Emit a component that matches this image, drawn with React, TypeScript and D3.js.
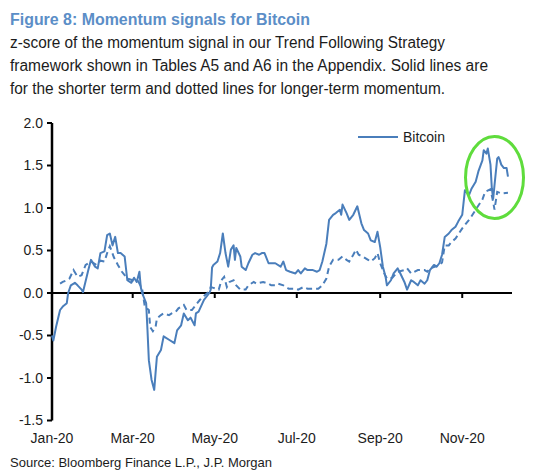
import React from "react";
import * as d3 from "d3";

const title = "Figure 8: Momentum signals for Bitcoin";
const subtitleLines = [
  "z-score of the momentum signal in our Trend Following Strategy",
  "framework shown in Tables A5 and A6 in the Appendix. Solid lines are",
  "for the shorter term and dotted lines for longer-term momentum.",
];
const sourceText = "Source: Bloomberg Finance L.P., J.P. Morgan";
const seriesName = "Bitcoin";

const yTicks = [-1.5, -1.0, -0.5, 0.0, 0.5, 1.0, 1.5, 2.0];
const xTickDates = ["2020-01-01", "2020-03-01", "2020-05-01", "2020-07-01", "2020-09-01", "2020-11-01"];
const xTickLabels = ["Jan-20", "Mar-20", "May-20", "Jul-20", "Sep-20", "Nov-20"];

// Shorter-term momentum (solid)
const shortDates = [
  "01-01","01-02","01-04","01-07","01-09","01-12","01-13","01-15","01-18","01-20","01-23","01-24","01-28","01-30",
  "02-02","02-04","02-06","02-09","02-11","02-13","02-15","02-17","02-19","02-21","02-24","02-26","02-29",
  "03-02","03-04","03-06","03-07","03-08","03-11","03-12","03-13","03-15","03-17","03-18","03-19","03-22","03-24","03-28",
  "04-01","04-03","04-06","04-08","04-11","04-13","04-16","04-17","04-19","04-23","04-27","04-28","04-29","04-30",
  "05-03","05-05","05-07","05-09","05-10","05-11","05-13","05-15","05-16","05-17","05-20","05-21","05-24","05-26","05-29","05-31",
  "06-03","06-05","06-07","06-10","06-12","06-15","06-19","06-21","06-23","06-26","06-30",
  "07-02","07-04","07-07","07-09","07-13","07-16","07-18","07-20","07-23","07-25","07-28","07-30",
  "08-02","08-03","08-04","08-07","08-09","08-12","08-15","08-18","08-20","08-23","08-25","08-28","08-30",
  "09-01","09-03","09-05","09-06","09-09","09-11","09-14","09-16","09-19","09-21","09-24","09-26","09-29",
  "10-01","10-04","10-06","10-08","10-11","10-13","10-15","10-17","10-19","10-22","10-24","10-27","10-29",
  "11-01","11-03","11-06","11-08","11-11","11-13","11-16","11-17","11-19","11-20","11-22","11-23","11-24","11-25","11-27","11-28","11-29","11-30",
  "12-02","12-04","12-05",
];
const shortValues = [
  -0.50,-0.56,-0.40,-0.20,-0.16,-0.12,0.00,0.09,0.12,0.09,0.04,0.01,0.27,0.39,
  0.31,0.29,0.47,0.49,0.68,0.70,0.56,0.66,0.47,0.47,0.43,0.15,0.12,
  0.18,0.13,0.25,0.07,0.00,-0.12,-0.44,-0.79,-1.02,-1.14,-0.94,-0.75,-0.67,-0.51,-0.55,
  -0.59,-0.44,-0.38,-0.24,-0.32,-0.29,-0.38,-0.24,-0.22,-0.08,0.00,0.04,0.30,0.33,
  0.37,0.47,0.70,0.47,0.39,0.31,0.51,0.56,0.39,0.53,0.43,0.31,0.27,0.35,0.45,0.47,
  0.45,0.47,0.47,0.35,0.35,0.35,0.31,0.37,0.27,0.25,0.23,
  0.27,0.23,0.29,0.27,0.27,0.25,0.27,0.37,0.58,0.86,0.92,0.94,
  0.98,0.92,1.04,0.94,0.86,0.92,1.02,0.82,0.74,0.70,0.62,0.60,0.72,
  0.54,0.31,0.19,0.09,0.15,0.23,0.29,0.23,0.13,0.04,0.15,0.13,0.09,
  0.15,0.11,0.15,0.27,0.33,0.31,0.35,0.45,0.66,0.70,0.74,0.78,0.84,
  0.92,1.21,1.15,1.23,1.31,1.43,1.56,1.68,1.64,1.70,1.51,1.23,1.11,1.27,1.58,1.60,1.56,1.51,
  1.47,1.47,1.37,
];

// Longer-term momentum (dotted)
const longDates = [
  "01-07","01-09","01-12","01-14","01-17","01-20","01-23","01-26","01-30",
  "02-03","02-06","02-09","02-11","02-13","02-16","02-19","02-22","02-26",
  "03-01","03-05","03-08","03-10","03-13","03-14","03-16","03-18","03-19","03-22","03-24","03-28","03-30",
  "04-02","04-04","04-08","04-10","04-14","04-17","04-20","04-24","04-27","04-28","04-30",
  "05-04","05-06","05-08","05-10","05-12","05-15","05-17","05-20","05-24","05-26","05-30",
  "06-01","06-06","06-10","06-12","06-15","06-17","06-21","06-25","06-30",
  "07-02","07-06","07-09","07-13","07-17","07-20","07-23","07-25","07-28",
  "08-01","08-04","08-07","08-09","08-12","08-14","08-16","08-19","08-23","08-25","08-28","08-30",
  "09-01","09-04","09-06","09-10","09-14","09-19","09-21","09-24","09-29",
  "10-04","10-06","10-08","10-12","10-15","10-17","10-19","10-22","10-24","10-27",
  "11-01","11-07","11-11","11-16","11-18","11-22","11-24","11-25","11-27","11-30",
  "12-05",
];
const longValues = [
  0.11,0.13,0.15,0.17,0.27,0.19,0.21,0.33,0.37,
  0.33,0.38,0.37,0.47,0.55,0.42,0.33,0.25,0.17,
  0.15,0.14,0.05,-0.16,-0.20,-0.40,-0.45,-0.40,-0.30,-0.26,-0.24,-0.26,-0.24,
  -0.22,-0.18,-0.14,-0.20,-0.20,-0.14,-0.08,-0.02,0.02,0.07,0.06,
  0.04,0.15,0.19,0.07,0.13,0.15,0.09,0.04,0.04,0.09,0.13,
  0.11,0.13,0.11,0.09,0.09,0.11,0.09,0.05,0.05,
  0.04,0.07,0.05,0.05,0.05,0.09,0.17,0.31,0.39,
  0.39,0.43,0.39,0.37,0.45,0.51,0.45,0.43,0.39,0.37,0.41,0.47,
  0.35,0.23,0.17,0.18,0.25,0.27,0.29,0.23,0.27,
  0.27,0.25,0.29,0.31,0.33,0.36,0.56,0.56,0.60,0.64,
  0.76,0.88,0.98,1.10,1.19,1.22,1.07,0.98,1.19,1.17,
  1.18,
];

const W = 551;
const H = 473;
const LINE = "#4a7ebb";
const TEXT = "#1c1c1c";
const FONT = "Arial, 'Liberation Sans', sans-serif";

export default function App() {
  const parse = d3.timeParse("%Y-%m-%d");
  const x = d3.scaleTime()
    .domain([parse("2020-01-01")!, parse("2020-12-08")!])
    .range([52, 512]);
  const y = d3.scaleLinear().domain([-1.5, 2.0]).range([420.5, 123]);

  const shortData = shortDates.map((d, i) => ({ date: parse("2020-" + d)!, v: shortValues[i] }));
  const longData = longDates.map((d, i) => ({ date: parse("2020-" + d)!, v: longValues[i] }));

  const line = d3.line<{ date: Date; v: number }>()
    .x((d) => x(d.date))
    .y((d) => y(d.v));

  const xLeft = x.range()[0];
  const xRight = x.range()[1];
  const y0 = y(0);

  return (
    <svg
      width={W}
      height={H}
      style={{ position: "absolute", left: 0, top: 0, background: "#fff" }}
      fontFamily={FONT}
    >
      <rect width={W} height={H} fill="#fff" />
      <text x={10} y={25} fontSize={16} fontWeight="bold" fill="#5b8ec7" textLength={300} lengthAdjust="spacingAndGlyphs">
        {title}
      </text>
      {subtitleLines.map((t, i) => (
        <text
          key={i}
          x={10}
          y={48 + i * 23}
          fontSize={16}
          fill={TEXT}
          textLength={[435, 478, 435][i]}
          lengthAdjust="spacingAndGlyphs"
        >
          {t}
        </text>
      ))}

      {/* y axis */}
      <line x1={xLeft} x2={xLeft} y1={y(2)} y2={y(-1.5)} stroke="#000" strokeWidth={2.5} />
      {yTicks.map((t) => (
        <g key={t}>
          <line x1={xLeft - 5} x2={xLeft} y1={y(t)} y2={y(t)} stroke="#000" strokeWidth={2} />
          <text x={43} y={y(t)} dy="0.35em" textAnchor="end" fontSize={14} fill={TEXT}>
            {d3.format(".1f")(t).replace("−", "-")}
          </text>
        </g>
      ))}

      {/* x axis at zero */}
      <line x1={xLeft} x2={xRight} y1={y0} y2={y0} stroke="#000" strokeWidth={2} />
      {xTickDates.map((d, i) => {
        const xp = x(parse(d)!);
        return (
          <g key={d}>
            {i > 0 && <line x1={xp} x2={xp} y1={y0} y2={y0 + 5} stroke="#000" strokeWidth={2} />}
            <text x={xp} y={443} textAnchor="middle" fontSize={14} fill={TEXT}>
              {xTickLabels[i]}
            </text>
          </g>
        );
      })}

      {/* series */}
      <path d={line(longData) || ""} fill="none" stroke={LINE} strokeWidth={2} strokeDasharray="6,4" />
      <path d={line(shortData) || ""} fill="none" stroke={LINE} strokeWidth={2} strokeLinejoin="round" />

      {/* legend */}
      <line x1={358} x2={398} y1={137} y2={137} stroke={LINE} strokeWidth={2} />
      <text x={403} y={142} fontSize={14} fill={TEXT}>
        {seriesName}
      </text>

      {/* highlight ellipse */}
      <ellipse
        cx={x(parse("2020-11-25")!)}
        cy={y(1.36)}
        rx={29}
        ry={41}
        fill="none"
        stroke="#5fdc3c"
        strokeWidth={3}
      />

      <text x={10} y={467} fontSize={13} fill={TEXT} textLength={262} lengthAdjust="spacingAndGlyphs">
        {sourceText}
      </text>
    </svg>
  );
}
